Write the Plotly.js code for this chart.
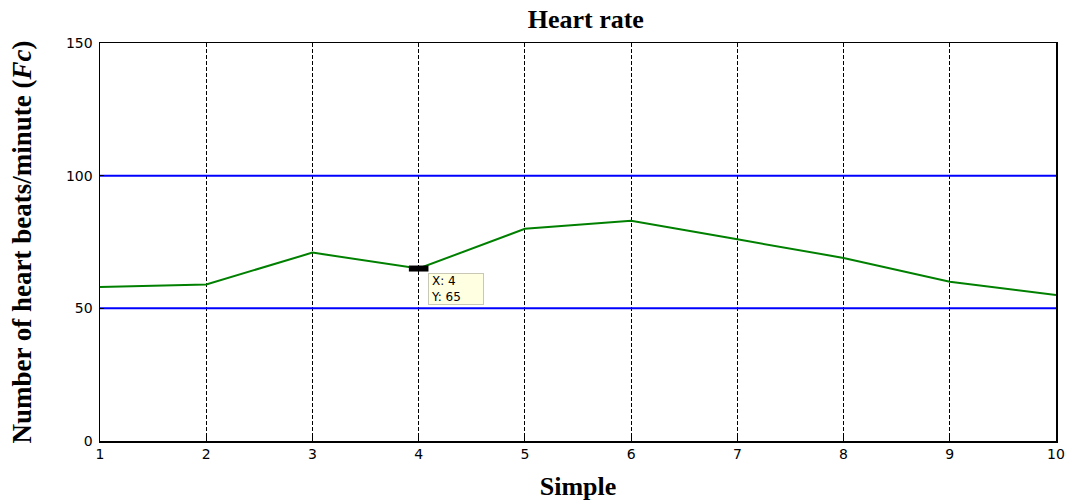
<!DOCTYPE html>
<html>
<head>
<meta charset="utf-8">
<script src="https://cdn.plot.ly/plotly-3.0.1.min.js"></script>
<style>html,body{margin:0;padding:0;background:#fff;}#chart{width:1069px;height:502px;}</style>
</head>
<body>
<div id="chart"></div>
<script>
const samples = [1, 2, 3, 4, 5, 6, 7, 8, 9, 10];
const heartRate = [58, 59, 71, 65, 80, 83, 76, 69, 60, 55];
const upperLimit = [100, 100, 100, 100, 100, 100, 100, 100, 100, 100];
const lowerLimit = [50, 50, 50, 50, 50, 50, 50, 50, 50, 50];
const tipIndex = 3;
const yTicks = [0, 50, 100, 150];

const traces = [
  {x: samples, y: upperLimit, mode: 'lines', line: {color: '#0000ff', width: 2}, hoverinfo: 'skip'},
  {x: samples, y: lowerLimit, mode: 'lines', line: {color: '#0000ff', width: 2}, hoverinfo: 'skip'},
  {x: samples, y: heartRate, mode: 'lines', line: {color: '#008000', width: 2}},
  {x: [samples[tipIndex]], y: [heartRate[tipIndex]], mode: 'markers',
   marker: {symbol: 'line-ew', size: 14, color: '#000', line: {color: '#000', width: 6}}}
];

const layout = {
  width: 1069, height: 502,
  margin: {l: 100, r: 13, t: 43, b: 61},
  paper_bgcolor: '#fff', plot_bgcolor: '#fff',
  showlegend: false,
  title: {text: '<b>Heart rate</b>', font: {family: 'Liberation Serif', size: 26, color: '#000'},
          x: 0.548, xanchor: 'center', y: 0.962, yanchor: 'middle'},
  xaxis: {
    range: [1, 10], tickvals: samples, ticktext: samples.map(String),
    showgrid: true, gridcolor: '#000', griddash: '4px,2px', gridwidth: 1,
    showline: true, linecolor: '#000', linewidth: 1.5, mirror: true,
    ticks: 'inside', ticklen: 4, tickcolor: '#000', zeroline: false,
    tickfont: {family: 'DejaVu Sans', size: 14, color: '#000'},
    title: {text: '<b>Simple</b>', font: {family: 'Liberation Serif', size: 26, color: '#000'}, standoff: 15}
  },
  yaxis: {
    range: [0, 150], tickvals: yTicks, ticktext: yTicks.map(String),
    showgrid: false, zeroline: false,
    showline: true, linecolor: '#000', linewidth: 1.5, mirror: true,
    ticks: 'inside', ticklen: 4, tickcolor: '#000', ticklabelstandoff: 3,
    tickfont: {family: 'DejaVu Sans', size: 14, color: '#000'},
    title: {text: '<b>Number of heart beats/minute (<i>Fc</i>)</b>', font: {family: 'Liberation Serif', size: 27, color: '#000'}, standoff: 26}
  },
  annotations: [{
    x: samples[tipIndex], y: heartRate[tipIndex], xref: 'x', yref: 'y',
    text: 'X: ' + samples[tipIndex] + '<br>Y: ' + heartRate[tipIndex],
    showarrow: false, xanchor: 'left', yanchor: 'top', align: 'left',
    xshift: 9, yshift: -4, width: 50, height: 26,
    bgcolor: '#ffffe1', bordercolor: '#c8c8b4', borderwidth: 1, borderpad: 2,
    font: {family: 'DejaVu Sans', size: 12, color: '#000'}
  }]
};

Plotly.newPlot('chart', traces, layout, {displayModeBar: false, staticPlot: true});
</script>
</body>
</html>
